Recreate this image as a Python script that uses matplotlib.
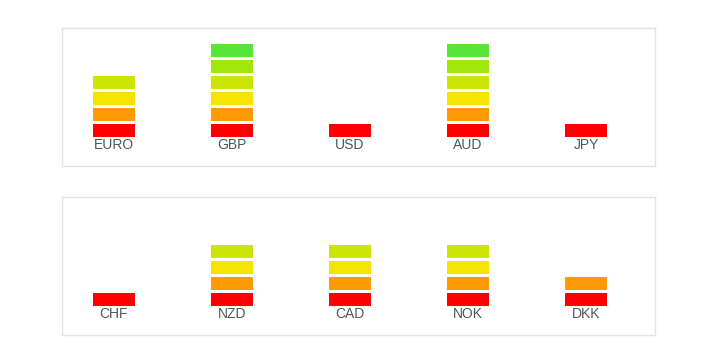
import matplotlib.pyplot as plt

top_names = ["EURO", "GBP", "USD", "AUD", "JPY"]
top_levels = [4, 6, 1, 6, 1]
bottom_names = ["CHF", "NZD", "CAD", "NOK", "DKK"]
bottom_levels = [1, 4, 4, 4, 2]

colors = ["#fe0000", "#fe9a05", "#f5e300", "#cde505", "#9fe70c", "#57e539"]

W, H = 712, 345
fig = plt.figure(figsize=(W / 100, H / 100), dpi=100)


def panel(top_px, names, levels):
    ax = fig.add_axes([62 / W, (H - top_px - 138) / H, 593 / W, 138 / H])
    for i, lvl in enumerate(levels):
        for k in range(lvl):
            ax.bar(i, 13 / 16, width=42 / 118, bottom=29 / 16 + k, color=colors[k])
        ax.text(i, 21 / 16, names[i], ha="center", va="center", fontsize=10,
                color="#555555", family="Liberation Sans")
    ax.set_xlim(-52 / 118, (593 - 52) / 118)
    ax.set_ylim(0, 138 / 16)
    ax.set_xticks([])
    ax.set_yticks([])
    for s in ax.spines.values():
        s.set_color("#e3e3e3")
        s.set_linewidth(1)
    return ax


panel(28, top_names, top_levels)
panel(197, bottom_names, bottom_levels)

fig.savefig("out.png", dpi=100)
